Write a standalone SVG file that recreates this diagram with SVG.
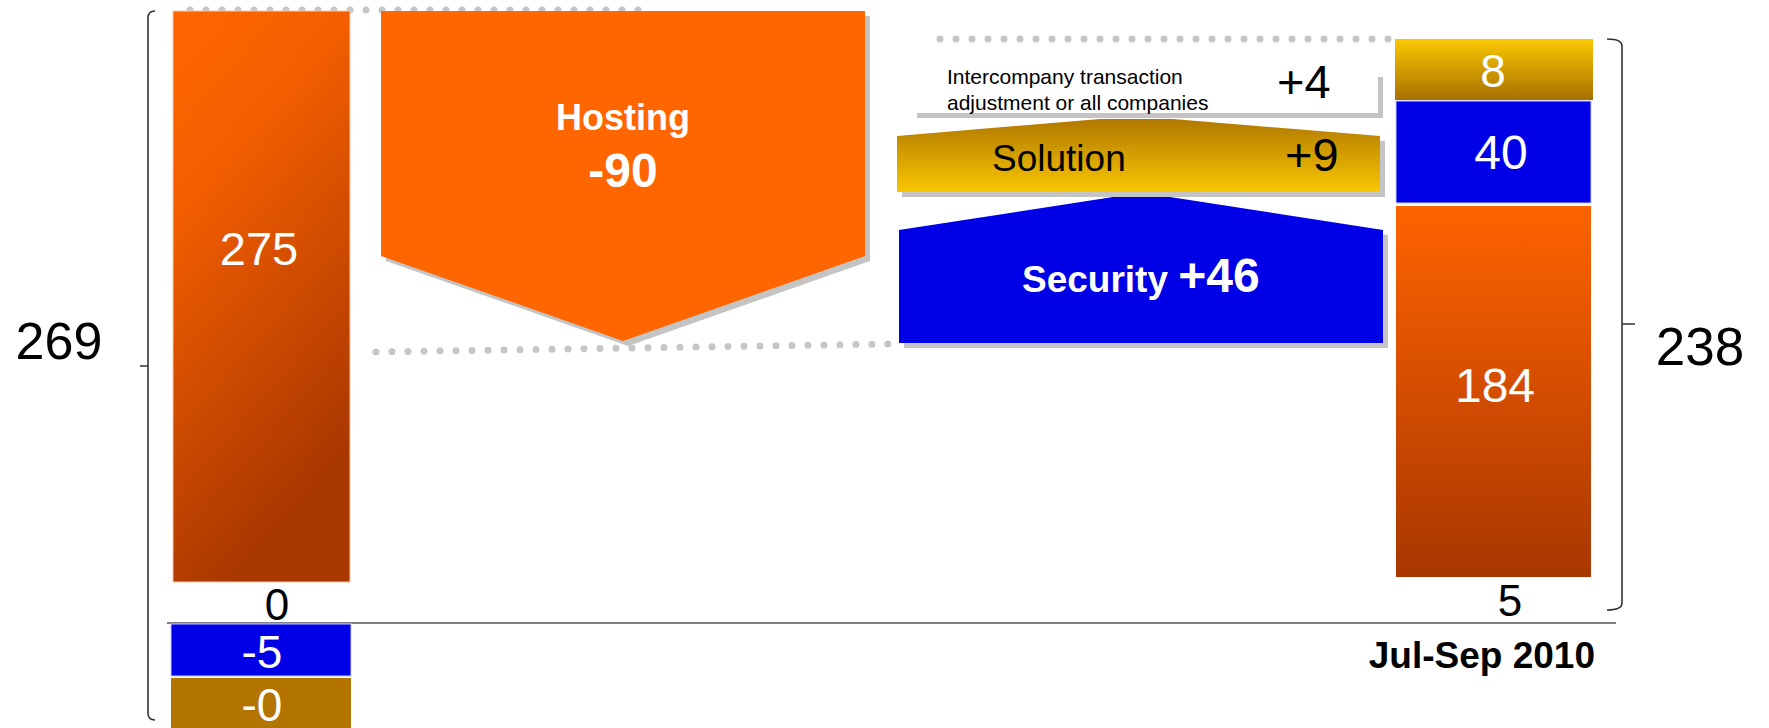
<svg xmlns="http://www.w3.org/2000/svg" width="1769" height="728" viewBox="0 0 1769 728">
<style>
.t{font-family:"Liberation Sans",Arial,sans-serif}
.w{fill:#fff}
.k{fill:#000}
.b{font-weight:bold}
.dots{fill:none;stroke:#c6c6c6;stroke-width:7;stroke-linecap:round;stroke-dasharray:0 16}
.br{fill:none;stroke:#333;stroke-width:1.6}
.sh{fill:#c4c4c4}
</style>
<defs>
<linearGradient id="gOrL" x1="0" y1="0" x2="0.35" y2="1">
<stop offset="0" stop-color="#ff6600"/><stop offset="0.3" stop-color="#f55f00"/><stop offset="1" stop-color="#a83700"/>
</linearGradient>
<linearGradient id="gOrR" x1="0" y1="0" x2="0" y2="1">
<stop offset="0" stop-color="#ff6300"/><stop offset="1" stop-color="#a83700"/>
</linearGradient>
<linearGradient id="gGold" x1="0" y1="0" x2="0" y2="1">
<stop offset="0" stop-color="#fac800"/><stop offset="1" stop-color="#a87000"/>
</linearGradient>
<linearGradient id="gSol" x1="0" y1="0" x2="0" y2="1">
<stop offset="0" stop-color="#b07800"/><stop offset="1" stop-color="#f9c600"/>
</linearGradient>
</defs>

<g id="connectors">
<line class="dots" x1="190" y1="10" x2="654" y2="10"/>
<line class="dots" x1="376" y1="352" x2="890" y2="344"/>
<line class="dots" x1="940" y1="39" x2="1390" y2="39"/>
<line x1="167" y1="623" x2="1616" y2="623" stroke="#808080" stroke-width="2"/>
</g>

<g id="bracket-left">
<path class="br" d="M155,11 Q148,11 148,18 L148,713 Q148,720 155,720 M148,366 L140,366"/>
<text class="t k" x="59" y="359" font-size="52" text-anchor="middle">269</text>
</g>

<g id="bar-start">
<rect x="173" y="11" width="177" height="571" fill="url(#gOrL)" stroke="#f8c8a8" stroke-width="1"/>
<text class="t w" x="259" y="265" font-size="47" text-anchor="middle">275</text>
<rect x="169" y="583" width="184" height="39" fill="#fff"/>
<text class="t k" x="277" y="620" font-size="44" text-anchor="middle">0</text>
<rect x="171" y="624" width="180" height="52" fill="#0000e6" stroke="#c8c8ff" stroke-width="1"/>
<text class="t w" x="262" y="668" font-size="46" text-anchor="middle">-5</text>
<rect x="171" y="678" width="180" height="52" fill="#b37400"/>
<text class="t w" x="262" y="721" font-size="46" text-anchor="middle">-0</text>
</g>

<g id="hosting">
<polygon class="sh" points="386,16 870,16 870,261 628,346 386,261"/>
<polygon fill="#ff6600" points="381,11 865,11 865,256 623,341 381,256"/>
<text class="t w b" x="623" y="130" font-size="36" text-anchor="middle">Hosting</text>
<text class="t w b" x="623" y="187" font-size="48" text-anchor="middle">-90</text>
</g>

<g id="intercompany">
<rect class="sh" x="917" y="77" width="466" height="41"/>
<rect x="912" y="72" width="466" height="41" fill="#fff"/>
<text class="t k" x="947" y="84" font-size="21">Intercompany transaction</text>
<text class="t k" x="947" y="110" font-size="21">adjustment or all companies</text>
<text class="t k" x="1277" y="98" font-size="47">+4</text>
</g>

<g id="solution">
<polygon class="sh" points="902,141 1105,124 1178,124 1385,141 1385,197 902,197"/>
<polygon fill="url(#gSol)" points="897,136 1100,119 1173,119 1380,136 1380,192 897,192"/>
<text class="t k" x="992" y="171" font-size="37">Solution</text>
<text class="t k" x="1285" y="171" font-size="47">+9</text>
</g>

<g id="security">
<polygon class="sh" points="904,235 1118,202 1175,202 1388,235 1388,348 904,348"/>
<polygon fill="#0000e6" points="899,230 1113,197 1170,197 1383,230 1383,343 899,343"/>
<text class="t w b" x="1022" y="292" font-size="37">Security <tspan font-size="48">+46</tspan></text>
</g>

<g id="bar-end">
<rect x="1395" y="39" width="198" height="61" fill="url(#gGold)"/>
<text class="t w" x="1493" y="87" font-size="46" text-anchor="middle">8</text>
<rect x="1396" y="101" width="195" height="102" fill="#0000e6" stroke="#c8c8ff" stroke-width="1"/>
<text class="t w" x="1501" y="169" font-size="48" text-anchor="middle">40</text>
<rect x="1396" y="206" width="195" height="371" fill="url(#gOrR)"/>
<text class="t w" x="1495" y="402" font-size="48" text-anchor="middle">184</text>
<text class="t k" x="1510" y="616" font-size="44" text-anchor="middle">5</text>
</g>

<g id="bracket-right">
<path class="br" d="M1607,39 Q1622,39 1622,46 L1622,603 Q1622,610 1607,610 M1622,324 L1635,324"/>
<text class="t k" x="1700" y="365" font-size="53" text-anchor="middle">238</text>
</g>

<g id="period">
<text class="t k b" x="1595" y="668" font-size="37" text-anchor="end">Jul-Sep 2010</text>
</g>
</svg>
